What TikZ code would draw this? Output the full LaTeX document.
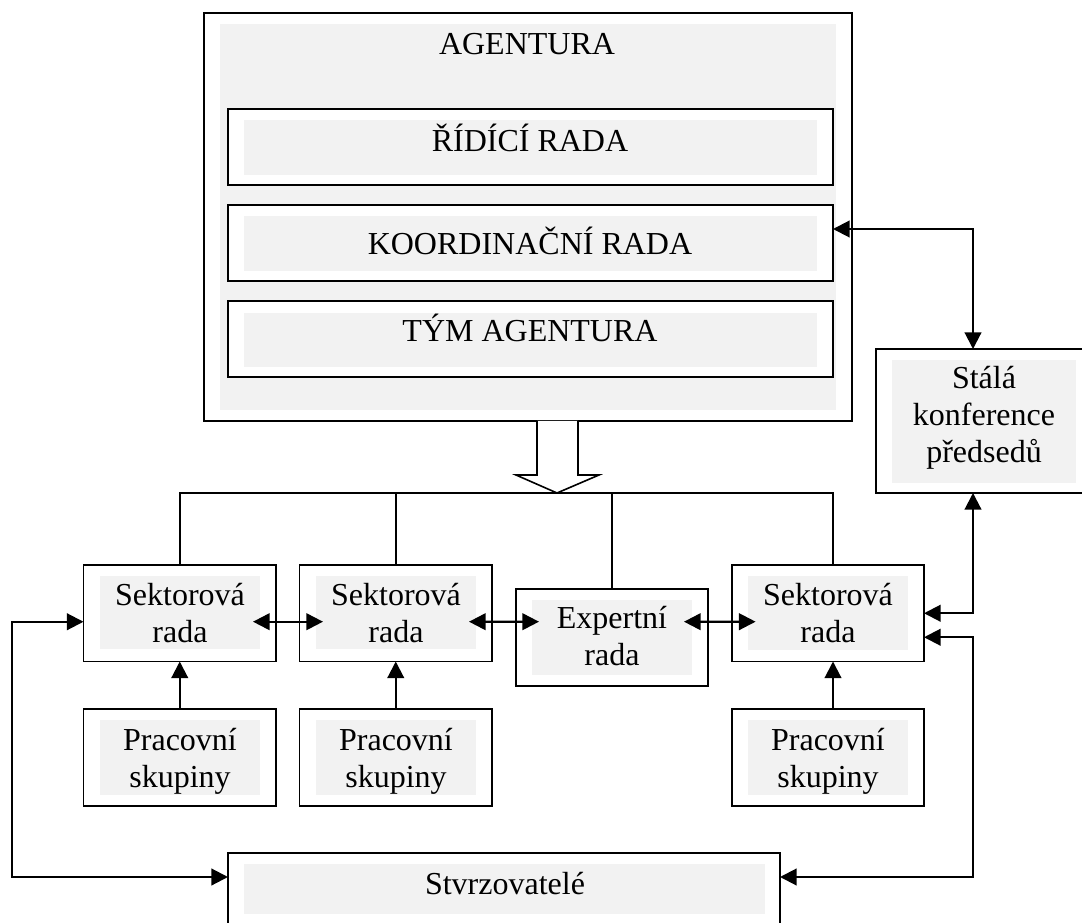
\documentclass[tikz,border=0pt]{standalone}
\usepackage{fontspec}
\setmainfont{Liberation Serif}
\usetikzlibrary{arrows.meta,calc,fit}
\definecolor{boxgrey}{HTML}{F2F2F2}
\begin{document}
\begin{tikzpicture}[x=0.75pt,y=-0.75pt,
  box/.style={draw,line width=1.3pt,fill=white,inner sep=0pt,outer sep=0pt},
  greyin/.style={fill=boxgrey,draw=none,inner sep=0pt,outer sep=0pt},
  txt/.style={font=\fontsize{24}{27.75}\selectfont,align=center,inner sep=0pt},
  bus/.style={line width=1.2pt},
  arr/.style={line width=1.6pt,>={Triangle[length=12.5pt,width=12.5pt]}},
  hollow/.style={draw,fill=white,line width=1.2pt,line join=miter}]
\useasboundingbox[fill=white] (0,0) rectangle (1082,923);

% AGENTURA block
\node[box,fit={(203.7,12.7) (851.7,421)}] (agentura) {};
\node[greyin,fit={(220,24) (835.5,410)}] (agenturag) {};
\node[txt,anchor=base] (agenturat) at (527,55) {AGENTURA};

\node[box,fit={(228,109) (833,185)}] (rid) {};
\node[greyin,fit={(244,120) (817,175)}] (ridg) {};
\node[txt,anchor=base] (ridt) at (530,152) {ŘÍDÍCÍ RADA};

\node[box,fit={(228,205) (833,281)}] (koord) {};
\node[greyin,fit={(244,216) (817,271)}] (koordg) {};
\node[txt,anchor=base] (koordt) at (530,255) {KOORDINAČNÍ RADA};

\node[box,fit={(228,301) (833,377)}] (tym) {};
\node[greyin,fit={(244,312.7) (817,366.7)}] (tymg) {};
\node[txt,anchor=base] (tymt) at (530,341.7) {TÝM AGENTURA};

% Stala konference
\node[box,fit={(876,349) (1092,493)}] (stala) {};
\node[greyin,fit={(892,360) (1076,483)}] (stalag) {};
\node[txt] (stalat) at (984,418.6) {\strut Stálá\\\strut konference\\\strut předsedů};

% Sektorove rady
\node[box,fit={(83.5,565) (276,661.5)}] (sekt1) {};
\node[greyin,fit={(100,576) (260,649)}] (sekt1g) {};
\node[txt] (sekt1t) at (180,616.1) {\strut Sektorová\\\strut rada};

\node[box,fit={(299.5,565) (492,661.5)}] (sekt2) {};
\node[greyin,fit={(316,576) (476,649)}] (sekt2g) {};
\node[txt] (sekt2t) at (396,616.1) {\strut Sektorová\\\strut rada};

\node[box,fit={(516,589) (708,686)}] (expert) {};
\node[greyin,fit={(532,600) (692,675)}] (expertg) {};
\node[txt] (expertt) at (612,639.4) {\strut Expertní\\\strut rada};

\node[box,fit={(732,565) (924,661.5)}] (sekt3) {};
\node[greyin,fit={(748,576) (908,650)}] (sekt3g) {};
\node[txt] (sekt3t) at (828,616.1) {\strut Sektorová\\\strut rada};

% Pracovni skupiny
\node[box,fit={(83.5,709) (276,806)}] (prac1) {};
\node[greyin,fit={(100,720) (260,795)}] (prac1g) {};
\node[txt] (prac1t) at (180,761.1) {\strut Pracovní\\\strut skupiny};

\node[box,fit={(299.5,709) (492,806)}] (prac2) {};
\node[greyin,fit={(316,720) (476,795)}] (prac2g) {};
\node[txt] (prac2t) at (396,761.1) {\strut Pracovní\\\strut skupiny};

\node[box,fit={(732,709) (924,806)}] (prac3) {};
\node[greyin,fit={(748,720) (908,795)}] (prac3g) {};
\node[txt] (prac3t) at (828,761.1) {\strut Pracovní\\\strut skupiny};

% Stvrzovatele
\node[box,fit={(228,853) (780,940)}] (stvrz) {};
\node[greyin,fit={(244,864) (765,914)}] (stvrzg) {};
\node[txt,anchor=base] (stvrzt) at (505,894) {Stvrzovatelé};

% bus from AGENTURA
\coordinate (bus) at (0,493);
\coordinate (s3top) at ($(sekt3.north)+(5,0)$);
\draw[bus] (sekt1.north) -- (sekt1.north |- bus) -- (s3top |- bus) -- (s3top);
\draw[bus] (sekt2.north) -- (sekt2.north |- bus);
\draw[bus] (expert.north) -- (expert.north |- bus);

% hollow arrow
\draw[hollow] (537,421) -- (537,475) -- (516,475) -- (557,493) -- (599,475) -- (578,475) -- (578,421);

% arrows between sector boards
\draw[arr,<->] ($(sekt1g.east)+(-7,9.2)$) -- ($(sekt2g.west)+(7,9.2)$);
\draw[arr,<->] ($(sekt2g.east)+(-7,9.2)$) -- ($(expertg.west)+(7,-15.8)$);
\draw[arr,<->] ($(expertg.east)+(-8,-15.8)$) -- ($(sekt3g.west)+(7.6,8.7)$);

% working groups
\draw[arr,->] (prac1.north) -- (sekt1.south);
\draw[arr,->] (prac2.north) -- (sekt2.south);
\draw[arr,->] ($(prac3.north)+(5,0)$) -- ($(sekt3.south)+(5,0)$);

% Stala konference links
\draw[arr,<->] ($(koord.east)+(0,-14)$) -| ($(stala.north)+(-11,0)$);
\draw[arr,<->] ($(stala.south)+(-11,0)$) |- (sekt3.east);

% Stvrzovatele links
\coordinate (rbot) at (973,877);
\coordinate (lbot) at (12,877);
\draw[arr,<->] ($(sekt3.east)+(0,24)$) -| (rbot) -- ($(stvrz.north east)+(0,24)$);
\draw[arr,<->] ($(sekt1.west)+(0,8.5)$) -| (lbot) -- ($(stvrz.north west)+(0,24)$);
\end{tikzpicture}
\end{document}
